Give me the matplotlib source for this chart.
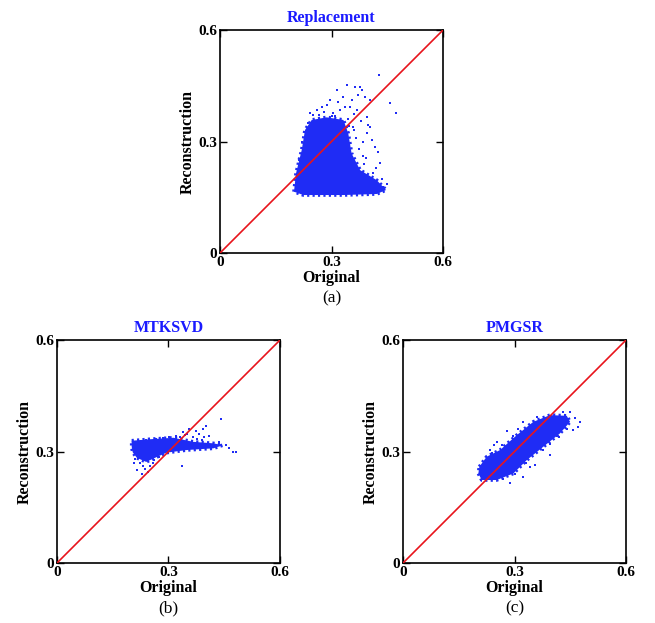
import numpy as np
import matplotlib
matplotlib.use('Agg')
import matplotlib.pyplot as plt

plt.rcParams['font.family'] = ['Liberation Serif', 'DejaVu Serif']

# panel titles and captions
titles = ['Replacement', 'MTKSVD', 'PMGSR']
captions = ['(a)', '(b)', '(c)']
ticks = [0, 0.3, 0.6]
tick_labels = ['0', '0.3', '0.6']

# dense core of each cloud (Original, Reconstruction)
core_a_x = [0.199, 0.2045, 0.2198, 0.2287, 0.2467, 0.287, 0.332, 0.345, 0.354,
            0.377, 0.4216, 0.4467, 0.4216, 0.332, 0.224]
core_a_y = [0.165, 0.2145, 0.277, 0.331, 0.358, 0.365, 0.358, 0.322, 0.268,
            0.223, 0.196, 0.1695, 0.1588, 0.156, 0.156]

core_b_x = [0.201, 0.250, 0.313, 0.367, 0.4207, 0.4458, 0.4207, 0.349, 0.295,
            0.268, 0.240, 0.215, 0.2037, 0.201]
core_b_y = [0.329, 0.333, 0.337, 0.326, 0.322, 0.317, 0.3086, 0.304, 0.297,
            0.285, 0.272, 0.283, 0.298, 0.313]

core_c_x = [0.2054, 0.225, 0.261, 0.306, 0.3507, 0.3956, 0.4405, 0.4494, 0.4225,
            0.3776, 0.333, 0.297, 0.252, 0.2118, 0.2027]
core_c_y = [0.259, 0.286, 0.304, 0.344, 0.380, 0.398, 0.396, 0.380, 0.349,
            0.313, 0.277, 0.241, 0.2233, 0.2233, 0.241]

# scattered points outside the dense core
out_a_x = [0.429, 0.457, 0.474, 0.341, 0.363, 0.377, 0.314, 0.296, 0.274, 0.332,
           0.354, 0.368, 0.395, 0.404, 0.417, 0.431, 0.260, 0.242, 0.404, 0.390,
           0.381, 0.372, 0.350, 0.318, 0.395, 0.408, 0.426, 0.287, 0.251, 0.323,
           0.305, 0.337, 0.4126, 0.4395, 0.358, 0.366, 0.384, 0.392, 0.266, 0.280,
           0.310, 0.345, 0.360, 0.374, 0.388, 0.236, 0.221, 0.213, 0.435, 0.450,
           0.360, 0.300, 0.347, 0.380, 0.398, 0.386, 0.420]
out_a_y = [0.479, 0.404, 0.376, 0.452, 0.448, 0.446, 0.439, 0.412, 0.394, 0.421,
           0.412, 0.385, 0.367, 0.340, 0.286, 0.241, 0.385, 0.376, 0.412, 0.421,
           0.439, 0.425, 0.394, 0.407, 0.322, 0.304, 0.273, 0.398, 0.371, 0.385,
           0.376, 0.394, 0.2145, 0.178, 0.340, 0.310, 0.300, 0.255, 0.372, 0.380,
           0.370, 0.360, 0.330, 0.280, 0.240, 0.350, 0.300, 0.250, 0.200, 0.185,
           0.375, 0.368, 0.343, 0.355, 0.345, 0.262, 0.230]

out_b_x = [0.440, 0.392, 0.374, 0.356, 0.383, 0.401, 0.338, 0.320, 0.302, 0.284,
           0.410, 0.437, 0.482, 0.473, 0.336, 0.266, 0.240, 0.226, 0.215, 0.228,
           0.245, 0.258, 0.211, 0.350, 0.390, 0.232, 0.222, 0.236, 0.250, 0.262,
           0.275, 0.218, 0.208, 0.365, 0.378, 0.395, 0.345, 0.330, 0.455, 0.462]
out_b_y = [0.388, 0.361, 0.356, 0.361, 0.348, 0.370, 0.352, 0.343, 0.339, 0.336,
           0.343, 0.325, 0.299, 0.299, 0.261, 0.334, 0.331, 0.327, 0.250, 0.240,
           0.245, 0.270, 0.280, 0.347, 0.330, 0.262, 0.268, 0.252, 0.262, 0.277,
           0.285, 0.290, 0.270, 0.340, 0.335, 0.340, 0.344, 0.340, 0.318, 0.310]

out_c_x = [0.476, 0.458, 0.463, 0.413, 0.377, 0.341, 0.323, 0.287, 0.234, 0.252,
           0.296, 0.323, 0.431, 0.449, 0.280, 0.245, 0.395, 0.356, 0.218, 0.240,
           0.265, 0.310, 0.360, 0.420, 0.440, 0.300, 0.330, 0.270, 0.395, 0.470]
out_c_y = [0.380, 0.357, 0.389, 0.343, 0.304, 0.259, 0.232, 0.214, 0.304, 0.326,
           0.343, 0.380, 0.406, 0.406, 0.356, 0.318, 0.290, 0.265, 0.272, 0.296,
           0.318, 0.360, 0.392, 0.340, 0.360, 0.240, 0.270, 0.225, 0.320, 0.365]

cores = [(core_a_x, core_a_y), (core_b_x, core_b_y), (core_c_x, core_c_y)]
outs = [(out_a_x, out_a_y), (out_b_x, out_b_y), (out_c_x, out_c_y)]

fig = plt.figure(figsize=(6.55, 6.23), dpi=100)
positions = [[0.3359, 0.5939, 0.3405, 0.3579],
             [0.0870, 0.0963, 0.3405, 0.3579],
             [0.6153, 0.0963, 0.3405, 0.3579]]

blue = '#1f2cf5'
for i in range(3):
    ax = fig.add_axes(positions[i])
    cx, cy = cores[i]
    ax.fill(cx, cy, color=blue, lw=0, zorder=2)
    # ragged dotted rim so the cloud edge looks like scattered points
    ax.plot(cx + cx[:1], cy + cy[:1], color=blue, lw=2.6,
            linestyle=(0, (0.6, 0.9)), zorder=2)
    ox, oy = outs[i]
    ax.scatter(ox, oy, s=4, marker='s', color=blue, linewidths=0, zorder=2)
    ax.plot([0, 0.6], [0, 0.6], color='#e8141c', lw=1.2, zorder=3)

    ax.set_xlim(0, 0.6)
    ax.set_ylim(0, 0.6)
    ax.set_xticks(ticks)
    ax.set_yticks(ticks)
    ax.set_xticklabels(tick_labels, fontweight='bold', fontsize=11)
    ax.set_yticklabels(tick_labels, fontweight='bold', fontsize=11)
    ax.tick_params(direction='in', length=5, width=1, top=True, right=True, pad=2)
    for sp in ax.spines.values():
        sp.set_linewidth(1.2)

    ax.set_xlabel('Original', fontweight='bold', fontsize=11.5, labelpad=1)
    ax.set_ylabel('Reconstruction', fontweight='bold', fontsize=11.5, labelpad=2)
    ax.set_title(titles[i], color='#1a1aff', fontweight='bold', fontsize=11.5, pad=6)
    ax.text(0.5, -0.205, captions[i], transform=ax.transAxes, ha='center',
            va='center', fontsize=12.5)

fig.savefig('out.png', dpi=100)
